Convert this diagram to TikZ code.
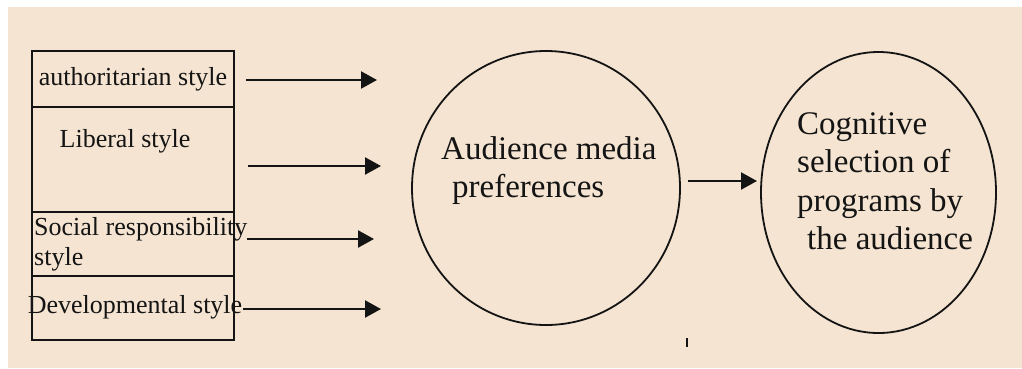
\documentclass[tikz,border=0pt]{standalone}
\usepackage{fontspec}
\setmainfont{Liberation Serif}
\usetikzlibrary{arrows.meta,positioning,shapes.geometric}
\definecolor{paper}{HTML}{F4E4D1}
\definecolor{ink}{HTML}{141414}
\tikzset{
  >=Latex,
  every node/.style={text=ink},
  stylebox/.style={draw=ink,line width=1.8pt,minimum width=202pt,inner sep=0pt,outer sep=0pt,font=\fontsize{26}{30}\selectfont},
  boxlabel/.style={inner sep=0pt,font=\fontsize{26}{30}\selectfont,align=left},
  oval/.style={ellipse,draw=ink,line width=1.8pt,inner sep=0pt,outer sep=0pt},
  ovallabel/.style={inner sep=0pt,font=\fontsize{33}{38.5}\selectfont,align=left},
  arrow/.style={-{Triangle[length=16pt,width=17pt]},line width=2.2pt,draw=ink},
}

\begin{document}
\begin{tikzpicture}[x=1pt,y=-1pt]
\useasboundingbox (0,0) rectangle (1022,368);
\fill[white] (0,0) rectangle (1022,368);
\fill[paper] (8,7) rectangle (1022,368);

% press styles, stacked
\node[stylebox,minimum height=56pt] (auth) at (133,79) {authoritarian style};
\node[stylebox,minimum height=105pt,below=0pt of auth] (lib) {};
\node[stylebox,minimum height=64pt,below=0pt of lib] (soc) {};
\node[stylebox,minimum height=64pt,below=0pt of soc] (dev) {};
\node[boxlabel,anchor=base] (libtext) at (125,147) {Liberal style};
\node[boxlabel,anchor=north west] (soctext) at (34,217) {Social responsibility\\style};
\node[boxlabel,anchor=base] (devtext) at (135,313) {Developmental style};

% preferences and selection
\node[oval,minimum width=268pt,minimum height=274pt] (pref) at (546,188) {};
\node[oval,minimum width=235pt,minimum height=281pt] (sel) at (878.5,192.5) {};
\node[ovallabel,anchor=north west] (preftext) at (441,136) {Audience media\\\hspace*{11pt}preferences};
\node[ovallabel,anchor=north west] (seltext) at (797,112) {Cognitive\\selection of\\programs by\\\hspace*{10pt}the audience};

\coordinate (t1) at (377,80);
\coordinate (t2) at (381,166);
\coordinate (t3) at (374,239);
\coordinate (t4) at (381,309);
\draw[arrow] ([shift={(12,1)}]auth.east) -- (t1);\draw[arrow] ([shift={(14,6.5)}]lib.east) -- (t2);
\draw[arrow] ([shift={(13,-5)}]soc.east) -- (t3);\draw[arrow] ([shift={(9,1)}]dev.east) -- (t4);
\draw[arrow] ([shift={(8,-7)}]pref.east) -- ([shift={(-4,-11.5)}]sel.west);

\draw[line width=2pt,draw=ink] (687,338) -- (687,347);
\end{tikzpicture}
\end{document}
